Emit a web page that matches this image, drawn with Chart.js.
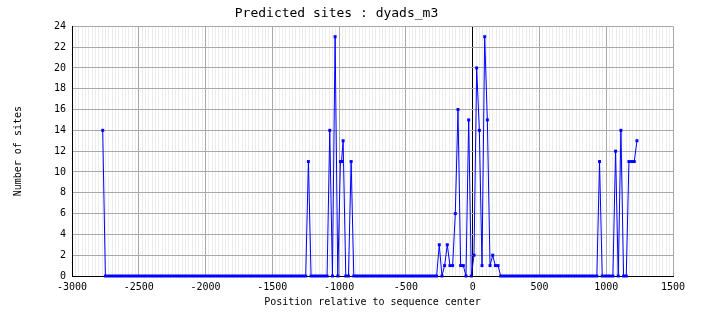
<!DOCTYPE html>
<html>
<head>
<meta charset="utf-8">
<title>Predicted sites : dyads_m3</title>
<script src="https://cdn.jsdelivr.net/npm/chart.js@4.4.1/dist/chart.umd.min.js"></script>
<style>
  html, body { margin: 0; padding: 0; background: #fff; }
  canvas { display: block; }
</style>
</head>
<body>
<canvas id="chart" width="704" height="328"></canvas>
<script>
// positions (bp, relative to sequence center) and number of sites at each
const positions = [
  -2770, -2750, -2730, -2710, -2690, -2670, -2650, -2630, -2610, -2590,
  -2570, -2550, -2530, -2510, -2490, -2470, -2450, -2430, -2410, -2390,
  -2370, -2350, -2330, -2310, -2290, -2270, -2250, -2230, -2210, -2190,
  -2170, -2150, -2130, -2110, -2090, -2070, -2050, -2030, -2010, -1990,
  -1970, -1950, -1930, -1910, -1890, -1870, -1850, -1830, -1810, -1790,
  -1770, -1750, -1730, -1710, -1690, -1670, -1650, -1630, -1610, -1590,
  -1570, -1550, -1530, -1510, -1490, -1470, -1450, -1430, -1410, -1390,
  -1370, -1350, -1330, -1310, -1290, -1270, -1250, -1230, -1210, -1190,
  -1170, -1150, -1130, -1110, -1090, -1070, -1050, -1030, -1010, -990, -982,
  -970, -950, -930, -910, -890, -870, -850, -830, -810, -790,
  -770, -750, -730, -710, -690, -670, -650, -630, -610, -590,
  -570, -550, -530, -510, -490, -470, -450, -430, -410, -390,
  -370, -350, -330, -310, -290, -270, -250, -230, -210, -190,
  -170, -150, -130, -110, -90, -70, -50, -30, -10, 10,
  30, 50, 70, 90, 110, 130, 150, 170, 190, 210,
  230, 250, 270, 290, 310, 330, 350, 370, 390, 410,
  430, 450, 470, 490, 510, 530, 550, 570, 590, 610,
  630, 650, 670, 690, 710, 730, 750, 770, 790, 810,
  830, 850, 870, 890, 910, 930, 950, 970, 990, 1010,
  1030, 1050, 1070, 1090, 1110, 1130, 1150, 1170, 1190, 1210,
  1230
];
const sites = [
  14, 0, 0, 0, 0, 0, 0, 0, 0, 0,
  0, 0, 0, 0, 0, 0, 0, 0, 0, 0,
  0, 0, 0, 0, 0, 0, 0, 0, 0, 0,
  0, 0, 0, 0, 0, 0, 0, 0, 0, 0,
  0, 0, 0, 0, 0, 0, 0, 0, 0, 0,
  0, 0, 0, 0, 0, 0, 0, 0, 0, 0,
  0, 0, 0, 0, 0, 0, 0, 0, 0, 0,
  0, 0, 0, 0, 0, 0, 0, 11, 0, 0,
  0, 0, 0, 0, 0, 14, 0, 23, 0, 11, 11,
  13, 0, 0, 11, 0, 0, 0, 0, 0, 0,
  0, 0, 0, 0, 0, 0, 0, 0, 0, 0,
  0, 0, 0, 0, 0, 0, 0, 0, 0, 0,
  0, 0, 0, 0, 0, 0, 3, 0, 1, 3,
  1, 1, 6, 16, 1, 1, 0, 15, 0, 2,
  20, 14, 1, 23, 15, 1, 2, 1, 1, 0,
  0, 0, 0, 0, 0, 0, 0, 0, 0, 0,
  0, 0, 0, 0, 0, 0, 0, 0, 0, 0,
  0, 0, 0, 0, 0, 0, 0, 0, 0, 0,
  0, 0, 0, 0, 0, 0, 11, 0, 0, 0,
  0, 0, 12, 0, 14, 0, 0, 11, 11, 11,
  13
];
const xLabels = [-3000, -2500, -2000, -1500, -1000, -500, 0, 500, 1000, 1500];
const yLabels = [0, 2, 4, 6, 8, 10, 12, 14, 16, 18, 20, 22, 24];

const font = "'DejaVu Sans Mono', monospace";

const chart = new Chart(document.getElementById('chart'), {
  type: 'line',
  data: {
    datasets: [{
      label: 'dyads_m3',
      data: positions.map((x, i) => ({x: x, y: sites[i]})),
      borderColor: '#0000ff',
      backgroundColor: '#0000ff',
      borderWidth: 1,
      tension: 0,
      pointStyle: 'rect',
      pointRadius: 2.1,
      pointBorderWidth: 0,
      clip: false
    }]
  },
  options: {
    responsive: false,
    animation: false,
    devicePixelRatio: 1,
    layout: {padding: {left: 0, right: 31, top: 0, bottom: 0}},
    plugins: {
      legend: {display: false},
      tooltip: {enabled: false},
      title: {
        display: true,
        text: 'Predicted sites : dyads_m3',
        color: '#000',
        font: {family: font, size: 13, weight: 'normal', lineHeight: 1.2},
        padding: {top: 6, bottom: 4.7}
      }
    },
    scales: {
      x: {
        type: 'linear',
        min: -3000,
        max: 1500,
        afterFit: (scale) => { scale.height = 52; },
        ticks: {
          stepSize: 25,
          maxTicksLimit: 400,
          autoSkip: false,
          maxRotation: 0,
          padding: 5,
          color: '#000',
          font: {family: font, size: 10, lineHeight: 1.2},
          callback: (v) => xLabels.includes(v) ? String(v) : ''
        },
        grid: {
          drawTicks: false,
          lineWidth: 1,
          color: (ctx) => {
            let v = ctx.tick && ctx.tick.value;
            if (v === 0) return '#000000';
            if (xLabels.includes(v)) return '#a8a8a8';
            return '#ececec';
          }
        },
        border: {color: '#000', width: 1},
        title: {
          display: true,
          text: 'Position relative to sequence center',
          color: '#000',
          font: {family: font, size: 10, lineHeight: 1.2},
          padding: {top: 0, bottom: 20}
        }
      },
      y: {
        min: 0,
        max: 24,
        afterFit: (scale) => { scale.width = 72; },
        ticks: {
          stepSize: 2,
          padding: 6,
          color: '#000',
          font: {family: font, size: 10, lineHeight: 1.2},
          callback: (v) => yLabels.includes(v) ? String(v) : ''
        },
        grid: {drawTicks: false, color: '#a8a8a8', lineWidth: 1},
        border: {color: '#000', width: 1},
        title: {
          display: true,
          text: 'Number of sites',
          color: '#000',
          font: {family: font, size: 10, lineHeight: 1.2},
          padding: {top: 12, bottom: 0}
        }
      }
    }
  }
});
</script>
</body>
</html>
